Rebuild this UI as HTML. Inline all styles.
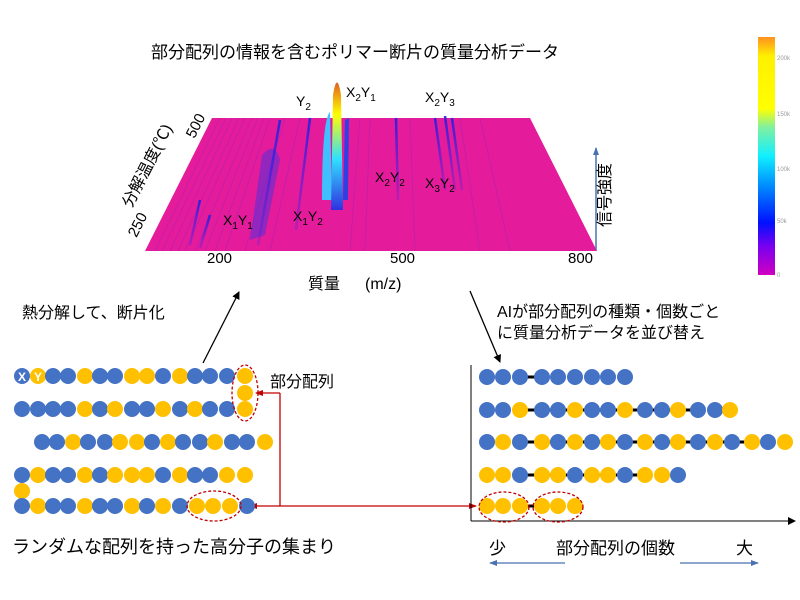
<!DOCTYPE html>
<html><head><meta charset="utf-8"><style>
body{margin:0;background:#fff}
svg{display:block}
text{font-family:"Liberation Sans","Noto Sans CJK JP",sans-serif}
</style></head><body>
<svg width="800" height="600" viewBox="0 0 800 600" xmlns="http://www.w3.org/2000/svg">
<defs>
<linearGradient id="cb" x1="0" y1="1" x2="0" y2="0">
<stop offset="0" stop-color="#d000c0"/><stop offset="0.12" stop-color="#7a00f0"/><stop offset="0.22" stop-color="#0010ff"/><stop offset="0.38" stop-color="#0090ff"/><stop offset="0.5" stop-color="#10f0ff"/><stop offset="0.62" stop-color="#80f0a0"/><stop offset="0.7" stop-color="#ffff00"/><stop offset="0.92" stop-color="#fff000"/><stop offset="1" stop-color="#ff9020"/>
</linearGradient>
<linearGradient id="pk" x1="0" y1="1" x2="0" y2="0">
<stop offset="0" stop-color="#3030e0"/><stop offset="0.4" stop-color="#30e0ff"/><stop offset="0.75" stop-color="#ffff00"/><stop offset="1" stop-color="#e06020"/>
</linearGradient>
<linearGradient id="bl" x1="0" y1="1" x2="0" y2="0">
<stop offset="0" stop-color="#5020e0" stop-opacity="0.3"/><stop offset="1" stop-color="#2020e0" stop-opacity="0.9"/>
</linearGradient>
<marker id="ab" markerWidth="8" markerHeight="8" refX="7" refY="4" orient="auto" markerUnits="userSpaceOnUse"><path d="M0,0 L8,4 L0,8 z" fill="#000"/></marker>
<marker id="ar" markerWidth="8" markerHeight="8" refX="7" refY="4" orient="auto" markerUnits="userSpaceOnUse"><path d="M0,1 L8,4 L0,7 z" fill="#c00000"/></marker>
<marker id="abl" markerWidth="8" markerHeight="8" refX="7" refY="4" orient="auto" markerUnits="userSpaceOnUse"><path d="M0,1 L8,4 L0,7 z" fill="#4a72b0"/></marker>
</defs>

<text x="355" y="58" font-size="17" text-anchor="middle">部分配列の情報を含むポリマー断片の質量分析データ</text>

<polygon points="212,118 530,118 597,251 145,251" fill="#e41c9c"/>
<g stroke="#9a20b8" stroke-width="1" opacity="0.4">
<line x1="220" y1="118" x2="155" y2="251"/><line x1="226" y1="118" x2="162" y2="251"/><line x1="232" y1="118" x2="170" y2="251"/><line x1="239" y1="118" x2="178" y2="251"/><line x1="245" y1="118" x2="185" y2="251"/><line x1="252" y1="118" x2="195" y2="251"/><line x1="258" y1="118" x2="205" y2="251"/><line x1="264" y1="118" x2="215" y2="251"/><line x1="270" y1="118" x2="225" y2="251"/><line x1="285" y1="118" x2="245" y2="251"/><line x1="300" y1="118" x2="270" y2="251"/><line x1="360" y1="118" x2="350" y2="251"/><line x1="370" y1="118" x2="365" y2="251"/><line x1="410" y1="118" x2="415" y2="251"/><line x1="460" y1="118" x2="480" y2="251"/><line x1="480" y1="118" x2="510" y2="251"/>
</g>
<path d="M262,155 Q275,140 280,160 L265,235 L250,240 z" fill="#5030d8" opacity="0.55"/>
<g stroke="url(#bl)" stroke-width="2.5" fill="none">
<line x1="280" y1="120" x2="258" y2="245"/><line x1="310" y1="118" x2="296" y2="230"/><line x1="396" y1="118" x2="398" y2="200"/><line x1="435" y1="118" x2="445" y2="190"/><line x1="445" y1="116" x2="455" y2="190"/><line x1="452" y1="118" x2="462" y2="190"/>
<line x1="200" y1="200" x2="190" y2="245"/><line x1="210" y1="215" x2="200" y2="248"/>
</g>
<path d="M322,200 Q322,120 330,112 L332,200 z" fill="#40c0ff"/>
<path d="M331,210 L333,95 Q337,70 341,95 L343,210 z" fill="url(#pk)"/>
<path d="M343,200 L345,120 L349,118 L348,200 z" fill="#3040e0"/>

<text x="296" y="106" font-size="14">Y<tspan font-size="10" dy="4">2</tspan></text>
<text x="346" y="97" font-size="14">X<tspan font-size="10" dy="4">2</tspan><tspan dy="-4">Y</tspan><tspan font-size="10" dy="4">1</tspan></text>
<text x="425" y="102" font-size="14">X<tspan font-size="10" dy="4">2</tspan><tspan dy="-4">Y</tspan><tspan font-size="10" dy="4">3</tspan></text>
<text x="375" y="182" font-size="14">X<tspan font-size="10" dy="4">2</tspan><tspan dy="-4">Y</tspan><tspan font-size="10" dy="4">2</tspan></text>
<text x="425" y="188" font-size="14">X<tspan font-size="10" dy="4">3</tspan><tspan dy="-4">Y</tspan><tspan font-size="10" dy="4">2</tspan></text>
<text x="223" y="225" font-size="14">X<tspan font-size="10" dy="4">1</tspan><tspan dy="-4">Y</tspan><tspan font-size="10" dy="4">1</tspan></text>
<text x="293" y="221" font-size="14">X<tspan font-size="10" dy="4">1</tspan><tspan dy="-4">Y</tspan><tspan font-size="10" dy="4">2</tspan></text>

<text x="207" y="263" font-size="15">200</text>
<text x="390" y="263" font-size="15">500</text>
<text x="568" y="263" font-size="15">800</text>
<text x="308" y="289" font-size="16">質量</text>
<text x="365" y="289" font-size="16">(m/z)</text>
<text transform="translate(200,128) rotate(-63)" font-size="15" text-anchor="middle">500</text>
<text transform="translate(142,227) rotate(-63)" font-size="15" text-anchor="middle">250</text>
<text transform="translate(152,168) rotate(-63)" font-size="16" text-anchor="middle">分解温度(℃)</text>
<line x1="596" y1="250" x2="596" y2="148" stroke="#4a72b0" stroke-width="1.5" marker-end="url(#abl)"/>
<text transform="translate(610,195) rotate(-90)" font-size="16" text-anchor="middle">信号強度</text>

<rect x="758" y="37" width="17" height="238" fill="url(#cb)"/>
<g font-size="6" fill="#999"><text x="777" y="60">200k</text><text x="777" y="116">150k</text><text x="777" y="171">100k</text><text x="777" y="223">50k</text><text x="777" y="277">0</text></g>

<line x1="203" y1="363" x2="239" y2="292" stroke="#000" stroke-width="1.3" marker-end="url(#ab)"/>
<line x1="470" y1="291" x2="500" y2="362" stroke="#000" stroke-width="1.3" marker-end="url(#ab)"/>
<text x="22" y="318" font-size="16">熱分解して、断片化</text>
<text x="497" y="317" font-size="16">AIが部分配列の種類・個数ごと</text>
<text x="497" y="338" font-size="16">に質量分析データを並び替え</text>

<text x="270" y="387" font-size="16">部分配列</text>
<text x="12" y="553" font-size="18">ランダムな配列を持った高分子の集まり</text>

<polyline points="280,393 280,506 476,506" fill="none" stroke="#c00000" stroke-width="1.3" marker-end="url(#ar)"/>
<line x1="280" y1="393" x2="256" y2="393" stroke="#c00000" stroke-width="1.3" marker-end="url(#ar)"/>
<line x1="280" y1="506" x2="250" y2="506" stroke="#c00000" stroke-width="1.3" marker-end="url(#ar)"/>

<line x1="471" y1="365" x2="471" y2="521" stroke="#000" stroke-width="1"/>
<line x1="471" y1="521" x2="795" y2="521" stroke="#000" stroke-width="1" marker-end="url(#ab)"/>
<text x="489" y="554" font-size="17">少</text>
<text x="556" y="554" font-size="17">部分配列の個数</text>
<text x="736" y="554" font-size="17">大</text>
<line x1="565" y1="563" x2="490" y2="563" stroke="#4a72b0" stroke-width="1.3" marker-end="url(#abl)"/>
<line x1="680" y1="563" x2="758" y2="563" stroke="#4a72b0" stroke-width="1.3" marker-end="url(#abl)"/>

<g stroke="none">
<circle cx="22" cy="376" r="8" fill="#4472c4"/><circle cx="38" cy="376" r="8" fill="#ffc000"/><circle cx="53" cy="376" r="8" fill="#4472c4"/><circle cx="68" cy="376" r="8" fill="#4472c4"/><circle cx="85" cy="376" r="8" fill="#ffc000"/><circle cx="100" cy="376" r="8" fill="#4472c4"/><circle cx="115" cy="376" r="8" fill="#4472c4"/><circle cx="132" cy="376" r="8" fill="#ffc000"/><circle cx="147" cy="376" r="8" fill="#ffc000"/><circle cx="163" cy="376" r="8" fill="#4472c4"/><circle cx="180" cy="376" r="8" fill="#ffc000"/><circle cx="195" cy="376" r="8" fill="#4472c4"/><circle cx="210" cy="376" r="8" fill="#4472c4"/><circle cx="227" cy="376" r="8" fill="#4472c4"/><circle cx="245" cy="376" r="8" fill="#ffc000"/><circle cx="245" cy="393" r="8" fill="#ffc000"/>
<circle cx="22" cy="409" r="8" fill="#4472c4"/><circle cx="38" cy="409" r="8" fill="#4472c4"/><circle cx="53" cy="409" r="8" fill="#4472c4"/><circle cx="68" cy="409" r="8" fill="#4472c4"/><circle cx="85" cy="409" r="8" fill="#ffc000"/><circle cx="100" cy="409" r="8" fill="#4472c4"/><circle cx="115" cy="409" r="8" fill="#ffc000"/><circle cx="132" cy="409" r="8" fill="#4472c4"/><circle cx="147" cy="409" r="8" fill="#4472c4"/><circle cx="163" cy="409" r="8" fill="#ffc000"/><circle cx="180" cy="409" r="8" fill="#4472c4"/><circle cx="195" cy="409" r="8" fill="#ffc000"/><circle cx="210" cy="409" r="8" fill="#4472c4"/><circle cx="227" cy="409" r="8" fill="#4472c4"/><circle cx="245" cy="409" r="8" fill="#ffc000"/>
<circle cx="42" cy="442" r="8" fill="#4472c4"/><circle cx="57" cy="442" r="8" fill="#4472c4"/><circle cx="73" cy="442" r="8" fill="#ffc000"/><circle cx="88" cy="442" r="8" fill="#4472c4"/><circle cx="105" cy="442" r="8" fill="#4472c4"/><circle cx="120" cy="442" r="8" fill="#ffc000"/><circle cx="137" cy="442" r="8" fill="#ffc000"/><circle cx="152" cy="442" r="8" fill="#4472c4"/><circle cx="168" cy="442" r="8" fill="#ffc000"/><circle cx="183" cy="442" r="8" fill="#4472c4"/><circle cx="200" cy="442" r="8" fill="#4472c4"/><circle cx="215" cy="442" r="8" fill="#ffc000"/><circle cx="232" cy="442" r="8" fill="#4472c4"/><circle cx="247" cy="442" r="8" fill="#4472c4"/><circle cx="265" cy="442" r="8" fill="#ffc000"/>
<circle cx="22" cy="475" r="8" fill="#4472c4"/><circle cx="38" cy="475" r="8" fill="#ffc000"/><circle cx="53" cy="475" r="8" fill="#4472c4"/><circle cx="68" cy="475" r="8" fill="#4472c4"/><circle cx="85" cy="475" r="8" fill="#ffc000"/><circle cx="100" cy="475" r="8" fill="#4472c4"/><circle cx="115" cy="475" r="8" fill="#ffc000"/><circle cx="132" cy="475" r="8" fill="#ffc000"/><circle cx="147" cy="475" r="8" fill="#ffc000"/><circle cx="163" cy="475" r="8" fill="#4472c4"/><circle cx="180" cy="475" r="8" fill="#ffc000"/><circle cx="195" cy="475" r="8" fill="#4472c4"/><circle cx="210" cy="475" r="8" fill="#4472c4"/><circle cx="227" cy="475" r="8" fill="#ffc000"/><circle cx="245" cy="475" r="8" fill="#ffc000"/><circle cx="22" cy="491" r="8" fill="#ffc000"/>
<circle cx="22" cy="506" r="8" fill="#4472c4"/><circle cx="38" cy="506" r="8" fill="#ffc000"/><circle cx="53" cy="506" r="8" fill="#4472c4"/><circle cx="68" cy="506" r="8" fill="#4472c4"/><circle cx="85" cy="506" r="8" fill="#ffc000"/><circle cx="100" cy="506" r="8" fill="#4472c4"/><circle cx="115" cy="506" r="8" fill="#4472c4"/><circle cx="132" cy="506" r="8" fill="#ffc000"/><circle cx="147" cy="506" r="8" fill="#4472c4"/><circle cx="163" cy="506" r="8" fill="#ffc000"/><circle cx="180" cy="506" r="8" fill="#4472c4"/><circle cx="197" cy="506" r="8" fill="#ffc000"/><circle cx="213" cy="506" r="8" fill="#ffc000"/><circle cx="230" cy="506" r="8" fill="#ffc000"/><circle cx="247" cy="506" r="8" fill="#4472c4"/>
</g>
<text x="22" y="381" font-size="12" fill="#fff" text-anchor="middle" font-weight="bold">X</text>
<text x="38" y="381" font-size="12" fill="#fff" text-anchor="middle" font-weight="bold">Y</text>
<ellipse cx="245" cy="393" rx="13" ry="28" fill="none" stroke="#c00000" stroke-dasharray="3,2" stroke-width="1.3"/>
<ellipse cx="214" cy="506" rx="27" ry="15" fill="none" stroke="#c00000" stroke-dasharray="3,2" stroke-width="1.3"/>

<g stroke="#000" stroke-width="3">
<line x1="520" y1="377" x2="542" y2="377"/>
<line x1="520" y1="410" x2="700" y2="410"/>
<line x1="520" y1="442" x2="745" y2="442"/>
<line x1="520" y1="475" x2="645" y2="475"/>
<line x1="520" y1="506" x2="542" y2="506"/>
</g>
<g>
<circle cx="487" cy="377" r="8" fill="#4472c4"/><circle cx="503" cy="377" r="8" fill="#4472c4"/><circle cx="520" cy="377" r="8" fill="#4472c4"/><circle cx="542" cy="377" r="8" fill="#4472c4"/><circle cx="558" cy="377" r="8" fill="#4472c4"/><circle cx="575" cy="377" r="8" fill="#4472c4"/><circle cx="592" cy="377" r="8" fill="#4472c4"/><circle cx="608" cy="377" r="8" fill="#4472c4"/><circle cx="625" cy="377" r="8" fill="#4472c4"/>
<circle cx="487" cy="410" r="8" fill="#4472c4"/><circle cx="503" cy="410" r="8" fill="#4472c4"/><circle cx="520" cy="410" r="8" fill="#ffc000"/><circle cx="542" cy="410" r="8" fill="#4472c4"/><circle cx="558" cy="410" r="8" fill="#4472c4"/><circle cx="575" cy="410" r="8" fill="#ffc000"/><circle cx="592" cy="410" r="8" fill="#4472c4"/><circle cx="608" cy="410" r="8" fill="#4472c4"/><circle cx="625" cy="410" r="8" fill="#ffc000"/><circle cx="645" cy="410" r="8" fill="#4472c4"/><circle cx="662" cy="410" r="8" fill="#4472c4"/><circle cx="678" cy="410" r="8" fill="#ffc000"/><circle cx="698" cy="410" r="8" fill="#4472c4"/><circle cx="715" cy="410" r="8" fill="#4472c4"/><circle cx="730" cy="410" r="8" fill="#ffc000"/>
<circle cx="487" cy="442" r="8" fill="#4472c4"/><circle cx="503" cy="442" r="8" fill="#ffc000"/><circle cx="520" cy="442" r="8" fill="#4472c4"/><circle cx="542" cy="442" r="8" fill="#ffc000"/><circle cx="558" cy="442" r="8" fill="#4472c4"/><circle cx="575" cy="442" r="8" fill="#ffc000"/><circle cx="592" cy="442" r="8" fill="#4472c4"/><circle cx="608" cy="442" r="8" fill="#ffc000"/><circle cx="625" cy="442" r="8" fill="#4472c4"/><circle cx="645" cy="442" r="8" fill="#ffc000"/><circle cx="662" cy="442" r="8" fill="#4472c4"/><circle cx="678" cy="442" r="8" fill="#ffc000"/><circle cx="698" cy="442" r="8" fill="#4472c4"/><circle cx="715" cy="442" r="8" fill="#ffc000"/><circle cx="732" cy="442" r="8" fill="#4472c4"/><circle cx="752" cy="442" r="8" fill="#ffc000"/><circle cx="768" cy="442" r="8" fill="#4472c4"/><circle cx="785" cy="442" r="8" fill="#ffc000"/>
<circle cx="487" cy="475" r="8" fill="#ffc000"/><circle cx="503" cy="475" r="8" fill="#ffc000"/><circle cx="520" cy="475" r="8" fill="#4472c4"/><circle cx="542" cy="475" r="8" fill="#ffc000"/><circle cx="558" cy="475" r="8" fill="#ffc000"/><circle cx="575" cy="475" r="8" fill="#4472c4"/><circle cx="592" cy="475" r="8" fill="#ffc000"/><circle cx="608" cy="475" r="8" fill="#ffc000"/><circle cx="625" cy="475" r="8" fill="#4472c4"/><circle cx="645" cy="475" r="8" fill="#ffc000"/><circle cx="662" cy="475" r="8" fill="#ffc000"/><circle cx="678" cy="475" r="8" fill="#4472c4"/>
<circle cx="487" cy="506" r="8" fill="#ffc000"/><circle cx="503" cy="506" r="8" fill="#ffc000"/><circle cx="520" cy="506" r="8" fill="#ffc000"/><circle cx="542" cy="506" r="8" fill="#ffc000"/><circle cx="558" cy="506" r="8" fill="#ffc000"/><circle cx="575" cy="506" r="8" fill="#ffc000"/>
</g>
<ellipse cx="504" cy="507" rx="25" ry="15" fill="none" stroke="#c00000" stroke-dasharray="3,2" stroke-width="1.3"/>
<ellipse cx="558" cy="507" rx="25" ry="15" fill="none" stroke="#c00000" stroke-dasharray="3,2" stroke-width="1.3"/>
</svg>
</body></html>
